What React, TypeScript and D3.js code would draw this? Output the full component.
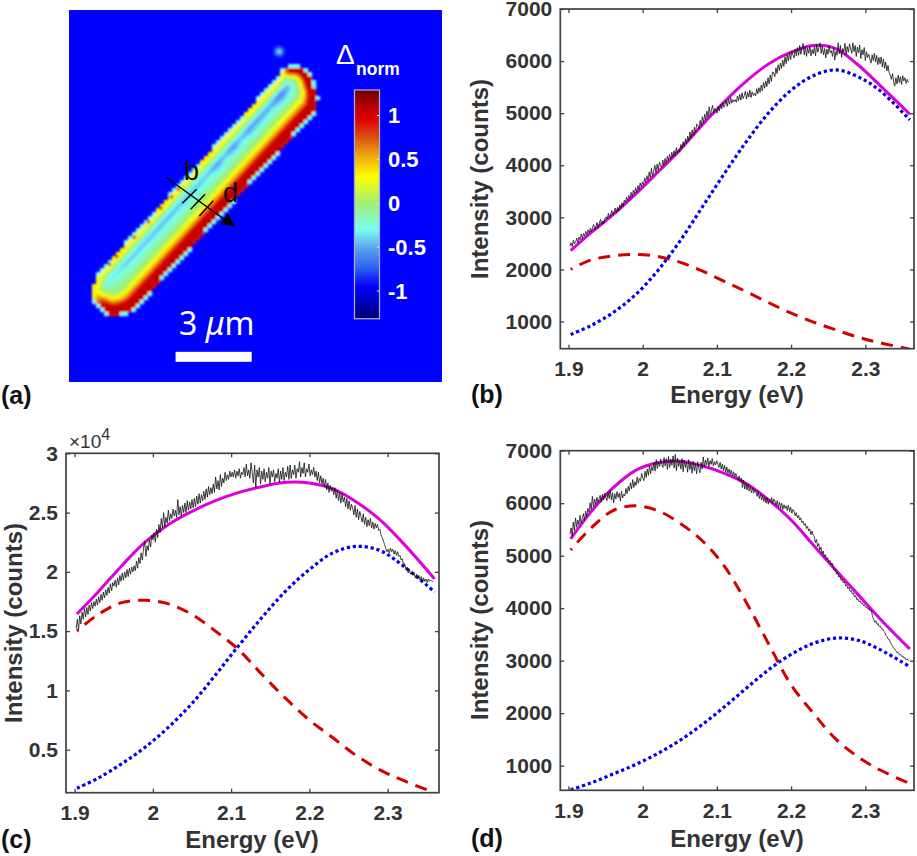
import React, { useRef, useEffect } from 'react';
import * as d3 from 'd3';

const FONT = '"Liberation Sans", Arial, sans-serif';
const INK = '#333333';

// fitted curves at these energies
const fitEnergy = [1.903, 1.93, 1.96, 1.99, 2.02, 2.05, 2.08, 2.11, 2.14, 2.17, 2.2, 2.23, 2.26, 2.29, 2.32, 2.36];

const fitB = [2360, 2700, 3050, 3440, 3860, 4290, 4770, 5220, 5620, 5950, 6170, 6300, 6240, 5930, 5530, 4980];
const highB = [750, 920, 1170, 1510, 1970, 2540, 3190, 3840, 4460, 5010, 5440, 5720, 5830, 5700, 5430, 4870];
const lowB = [2000, 2180, 2260, 2290, 2250, 2140, 1970, 1770, 1570, 1360, 1160, 990, 840, 700, 590, 470];

const fitC = [1.645, 1.83, 2.05, 2.25, 2.4, 2.51, 2.6, 2.67, 2.72, 2.755, 2.75, 2.7, 2.59, 2.44, 2.24, 1.94];
const highC = [0.175, 0.26, 0.38, 0.52, 0.69, 0.89, 1.13, 1.38, 1.62, 1.84, 2.02, 2.16, 2.215, 2.18, 2.05, 1.83];
const lowC = [1.5, 1.64, 1.74, 1.76, 1.73, 1.64, 1.5, 1.34, 1.13, 0.93, 0.75, 0.6, 0.45, 0.33, 0.24, 0.137];

const fitD = [5320, 5830, 6290, 6620, 6770, 6800, 6714, 6570, 6370, 6060, 5680, 5203, 4727, 4263, 3794, 3222];
const highD = [540, 670, 840, 1020, 1230, 1480, 1780, 2120, 2480, 2830, 3120, 3330, 3430, 3390, 3210, 2886];
const lowD = [5110, 5520, 5860, 5950, 5860, 5620, 5290, 4800, 4100, 3310, 2540, 2000, 1510, 1170, 917, 660];

// measured spectra, 17 readings per row, 1.902 to 2.358 eV
const measuredB = [
  2450, 2510, 2440, 2560, 2490, 2530, 2600, 2510, 2620, 2570, 2680, 2590, 2690, 2640, 2730, 2670, 2760,
  2700, 2790, 2720, 2810, 2860, 2760, 2830, 2900, 2790, 2890, 2960, 2860, 2930, 2880, 2990, 3010,
  2970, 3080, 3000, 3060, 3130, 3040, 3110, 3180, 3080, 3190, 3120, 3240, 3170, 3280, 3210, 3330,
  3290, 3390, 3320, 3420, 3360, 3480, 3400, 3520, 3450, 3570, 3480, 3610, 3530, 3660, 3590, 3680,
  3620, 3760, 3660, 3800, 3710, 3870, 3760, 3940, 3790, 3880, 4000, 3860, 4020, 3910, 4060, 4000,
  3950, 4100, 4000, 4130, 4040, 4170, 4090, 4210, 4110, 4250, 4160, 4280, 4190, 4340, 4230, 4300,
  4250, 4400, 4320, 4450, 4360, 4510, 4420, 4560, 4470, 4640, 4520, 4680, 4570, 4730, 4630, 4790, 4770,
  4700, 4860, 4760, 4930, 4810, 4980, 4870, 5040, 4920, 5120, 4960, 5060, 5150, 4990, 5090, 5060,
  5000, 5130, 5040, 5170, 5080, 5210, 5110, 5160, 5250, 5130, 5270, 5170, 5300, 5190, 5260, 5220, 5260,
  5210, 5330, 5240, 5360, 5250, 5390, 5280, 5340, 5420, 5270, 5400, 5310, 5440, 5300, 5410, 5340, 5380,
  5330, 5470, 5370, 5490, 5400, 5540, 5430, 5590, 5480, 5620, 5510, 5680, 5560, 5730, 5610, 5790, 5780,
  5700, 5870, 5760, 5930, 5820, 5960, 5860, 6020, 5900, 6080, 5950, 6120, 6000, 6160, 6030, 6190, 6120,
  6060, 6230, 6100, 6260, 6110, 6300, 6130, 6250, 6340, 6120, 6280, 6090, 6250, 6150, 6290, 6100, 6220,
  6140, 6280, 6100, 6320, 6170, 6260, 6350, 6150, 6290, 6120, 6240, 6060, 6230, 6130, 6300, 6160, 6200,
  6090, 6260, 6020, 6190, 6110, 6350, 6140, 6300, 6070, 6240, 6180, 6340, 6120, 6280, 6170, 6330, 6230,
  6150, 6350, 6180, 6300, 6090, 6270, 6160, 6310, 6050, 6220, 6120, 6260, 6010, 6180, 6070, 6130, 6040,
  5960, 6120, 6010, 6150, 5980, 6110, 5930, 6070, 5950, 6080, 5890, 6040, 5860, 5980, 5810, 5920, 5780,
  5730, 5650, 5760, 5600, 5520, 5680, 5560, 5730, 5590, 5700, 5550, 5720, 5620, 5680, 5570, 5650, 5590,
];
const measuredC = [
  1.52, 1.6, 1.51, 1.63, 1.56, 1.66, 1.6, 1.69, 1.62, 1.7, 1.64, 1.72, 1.67, 1.74, 1.69, 1.75, 1.71,
  1.77, 1.72, 1.79, 1.74, 1.81, 1.76, 1.83, 1.78, 1.85, 1.8, 1.87, 1.82, 1.9, 1.84, 1.91, 1.88,
  1.93, 1.87, 1.95, 1.89, 1.97, 1.92, 1.99, 1.93, 2.0, 1.95, 2.02, 1.96, 2.03, 1.98, 2.04, 2.0,
  2.05, 2.01, 2.09, 2.03, 2.12, 2.07, 2.16, 2.1, 2.2, 2.26, 2.13, 2.22, 2.18, 2.27, 2.21, 2.31, 2.27,
  2.33, 2.25, 2.36, 2.29, 2.4, 2.33, 2.45, 2.37, 2.5, 2.38, 2.46, 2.41, 2.52, 2.43, 2.49, 2.45, 2.53,
  2.47, 2.52, 2.46, 2.61, 2.48, 2.55, 2.47, 2.56, 2.5, 2.58, 2.5, 2.6, 2.52, 2.59, 2.53, 2.61,
  2.54, 2.62, 2.55, 2.64, 2.57, 2.66, 2.58, 2.65, 2.6, 2.68, 2.61, 2.7, 2.63, 2.72, 2.65, 2.71, 2.66,
  2.74, 2.67, 2.8, 2.7, 2.77, 2.69, 2.82, 2.72, 2.79, 2.75, 2.84, 2.77, 2.82, 2.78, 2.85, 2.8, 2.84,
  2.8, 2.86, 2.79, 2.85, 2.81, 2.87, 2.79, 2.84, 2.82, 2.88, 2.8, 2.91, 2.81, 2.86, 2.79, 2.92, 2.83,
  2.75, 2.9, 2.71, 2.86, 2.8, 2.88, 2.74, 2.85, 2.78, 2.87, 2.76, 2.84, 2.79, 2.88, 2.74, 2.85, 2.8,
  2.86, 2.76, 2.83, 2.79, 2.87, 2.75, 2.85, 2.78, 2.88, 2.77, 2.84, 2.8, 2.89, 2.78, 2.9, 2.79, 2.86,
  2.82, 2.9, 2.79, 2.87, 2.84, 2.93, 2.8, 2.88, 2.83, 2.92, 2.8, 2.87, 2.84, 2.91, 2.81, 2.86, 2.82,
  2.88, 2.8, 2.85, 2.77, 2.84, 2.75, 2.81, 2.74, 2.79, 2.72, 2.78, 2.69, 2.75, 2.67, 2.73, 2.68, 2.71,
  2.65, 2.71, 2.62, 2.69, 2.6, 2.67, 2.58, 2.66, 2.59, 2.63, 2.55, 2.62, 2.53, 2.6, 2.52, 2.57, 2.54,
  2.48, 2.56, 2.46, 2.53, 2.44, 2.51, 2.47, 2.42, 2.49, 2.4, 2.46, 2.38, 2.44, 2.39, 2.45, 2.37, 2.42,
  2.36, 2.41, 2.37, 2.4, 2.35, 2.36, 2.31, 2.29, 2.26, 2.23, 2.2, 2.17, 2.19, 2.16, 2.2, 2.17, 2.19,
  2.15, 2.18, 2.14, 2.17, 2.13, 2.14, 2.1, 2.11, 2.06, 2.07, 2.02, 2.04, 1.99, 2.02, 1.98, 2.0, 1.97,
  1.99, 1.95, 1.98, 1.94, 1.97, 1.93, 1.96, 1.92, 1.95, 1.92, 1.94, 1.91, 1.94, 1.92, 1.93, 1.92, 1.92,
];
const measuredD = [
  5410, 5530, 5370, 5640, 5480, 5720, 5540, 5680, 5590, 5770, 5620, 5710, 5800, 5660, 5850, 5740, 5900,
  5830, 6010, 5880, 6130, 5930, 6080, 5970, 6110, 6010, 6090, 6150, 6020, 6170, 6060, 6190, 6110,
  6050, 6210, 6090, 6240, 6060, 6200, 6010, 6180, 6080, 6220, 6110, 6190, 6040, 6230, 6100, 6170,
  6140, 6280, 6180, 6320, 6230, 6390, 6270, 6450, 6300, 6410, 6340, 6500, 6380, 6470, 6420, 6570, 6480,
  6430, 6610, 6490, 6650, 6530, 6720, 6560, 6700, 6620, 6780, 6610, 6830, 6660, 6790, 6700, 6840, 6730,
  6680, 6870, 6710, 6850, 6640, 6890, 6680, 6840, 6720, 6900, 6670, 6930, 6620, 6860, 6700, 6810,
  6650, 6850, 6600, 6820, 6680, 6790, 6590, 6830, 6640, 6780, 6570, 6800, 6620, 6760, 6560, 6790, 6660,
  6580, 6780, 6650, 6880, 6690, 6820, 6730, 6860, 6700, 6810, 6740, 6850, 6710, 6790, 6730, 6810, 6740,
  6680, 6780, 6650, 6740, 6620, 6720, 6590, 6690, 6570, 6650, 6550, 6630, 6520, 6600, 6490, 6570, 6500,
  6440, 6520, 6410, 6480, 6300, 6440, 6270, 6390, 6250, 6360, 6230, 6320, 6200, 6290, 6190, 6260, 6220,
  6130, 6230, 6090, 6180, 6060, 6150, 6030, 6110, 6000, 6100, 5980, 6080, 6020, 6110, 5990, 6080, 6040,
  5960, 6050, 5930, 6020, 5910, 6000, 5880, 5970, 5900, 5950, 5860, 5960, 5840, 5920, 5810, 5880, 5850,
  5760, 5820, 5720, 5770, 5680, 5720, 5630, 5660, 5580, 5610, 5520, 5560, 5470, 5510, 5400, 5470, 5390,
  5370, 5250, 5310, 5180, 5230, 5110, 5160, 5040, 5090, 4980, 5020, 4930, 4960, 4880, 4910, 4830, 4860,
  4780, 4720, 4740, 4650, 4690, 4590, 4610, 4530, 4560, 4480, 4510, 4420, 4450, 4370, 4400, 4320, 4340,
  4270, 4290, 4210, 4240, 4160, 4180, 4120, 4140, 4090, 4100, 4050, 4060, 4010, 4020, 3980, 3990, 3950,
  3960, 3840, 3790, 3730, 3760, 3690, 3710, 3650, 3660, 3610, 3610, 3560, 3540, 3480, 3460, 3410, 3400,
  3350, 3310, 3270, 3240, 3210, 3190, 3150, 3160, 3110, 3120, 3080, 3090, 3050, 3060, 3020, 3030, 3000,
];

const xTicks = [1.9, 2, 2.1, 2.2, 2.3];
const countTicks = [1000, 2000, 3000, 4000, 5000, 6000, 7000];
const scaledTicks = [0.5, 1, 1.5, 2, 2.5, 3];

// map colour scale
const barTicks = [-1, -0.5, 0, 0.5, 1];
const jetStops = [-1.32, -1.1, -0.95, -0.75, -0.5, -0.3, 0, 0.3, 0.55, 0.75, 0.95, 1.1, 1.285];
const jetColors = ['#000070', '#0000c8', '#0000ff', '#2a60f0', '#5fa8f0', '#78fff0', '#a0f070', '#ffff00', '#f0a010', '#d85010', '#e00000', '#b80000', '#6a0000'];

// rod in the map, micrometres from the image corner
const ridgeStart = [1.667, 10.64];
const ridgeEnd = [8.63, 3.035];
const capAngle = [0, 45, 90, 135, 180];
const capRadiusTop = [1.38, 0.985, 0.945, 0.75, 0.51];
const capRadiusBottom = [1.42, 1.38, 1.02, 0.56, 0.51];
const profileQ = [0, 0.08, 0.17, 0.39, 0.53, 0.64, 0.72, 0.85, 0.95, 1];
const lowerDelta = [-0.55, -0.42, -0.3, 0, 0.3, 0.62, 0.95, 1.08, 1.05, 0.85];
const upperQ = [0, 0.3, 0.5, 0.75, 0.9, 1];
const upperDelta = [-0.55, -0.3, -0.02, 0.28, 0.36, 0.3];
const ridgeQ = [0, 0.08, 0.3, 0.55, 0.6, 0.64, 0.69, 0.73, 0.78, 0.9, 0.96, 1];
const ridgeDelta = [-0.32, -0.42, -0.46, -0.44, -0.56, -0.44, -0.58, -0.44, -0.56, -0.5, -0.66, -0.48];
const edgeSpots = [0.04, 0.08, 0.18, 0.26, 0.33, 0.39, 0.43];

function drawMap(svg: any) {
  const mapX = d3.scaleLinear().domain([0, 14.7]).range([69, 442]);
  const mapY = d3.scaleLinear().domain([0, 14.66]).range([10, 382]);
  const um = 373 / 14.7;
  const jet = d3.scaleLinear<string>().domain(jetStops).range(jetColors).clamp(true);

  const defs = svg.append('defs');
  const blur = defs.append('filter').attr('id', 'soft')
    .attr('x', '-10%').attr('y', '-10%').attr('width', '120%').attr('height', '120%');
  blur.append('feGaussianBlur').attr('stdDeviation', 0.8);
  const blur2 = defs.append('filter').attr('id', 'softer')
    .attr('x', '-100%').attr('y', '-100%').attr('width', '300%').attr('height', '300%');
  blur2.append('feGaussianBlur').attr('stdDeviation', 1.6);

  svg.append('rect').attr('x', 69).attr('y', 10).attr('width', 373).attr('height', 372).attr('fill', '#0000ff');

  const ax = mapX(ridgeStart[0]);
  const ay = mapY(ridgeStart[1]);
  const bx = mapX(ridgeEnd[0]);
  const by = mapY(ridgeEnd[1]);
  const len = Math.hypot(bx - ax, by - ay);
  const ux = (bx - ax) / len;
  const uy = (by - ay) / len;
  const nx = -uy;
  const ny = ux;

  const topR = d3.scaleLinear().domain(capAngle).range(capRadiusTop.map((d) => d * um));
  const botR = d3.scaleLinear().domain(capAngle).range(capRadiusBottom.map((d) => d * um));
  const topW = d3.scaleLinear().domain([125, 150]).range([1, 0]).clamp(true);
  const botW = d3.scaleLinear().domain([60, 95]).range([1, 0]).clamp(true);
  const lower = d3.scaleLinear().domain(profileQ).range(lowerDelta).clamp(true);
  const upper = d3.scaleLinear().domain(upperQ).range(upperDelta).clamp(true);
  const ridge = d3.scaleLinear().domain(ridgeQ).range(ridgeDelta).clamp(true);

  const locate = (x: number, y: number) => {
    const s = (x - ax) * ux + (y - ay) * uy;
    const n = (x - ax) * nx + (y - ay) * ny;
    const sc = Math.max(0, Math.min(len, s));
    const a = s - sc;
    const phi = (Math.atan2(Math.abs(a), n) * 180) / Math.PI;
    const R = a > 0 ? topR(phi) : botR(phi);
    const w = a > 0 ? topW(phi) : botW(phi);
    return { q: Math.hypot(a, n) / R, R, w, along: sc / len };
  };

  const cells: any[] = [];
  d3.range(92, 322, 2).forEach((x) => {
    d3.range(60, 324, 2).forEach((y) => {
      const coarse = locate(Math.floor(x / 4) * 4 + 2, Math.floor(y / 4) * 4 + 2);
      if (coarse.q > 1 + 2 / coarse.R) return;
      let value = -0.3;
      if (coarse.q <= 1) {
        const p = locate(x + 1, y + 1);
        const q = Math.min(p.q, 0.99);
        value = p.w * lower(q) + (1 - p.w) * upper(q);
        value += (ridge(p.along) + 0.55) * Math.max(0, 1 - q * 2.5);
      }
      cells.push({ x, y, value });
    });
  });

  const rod = svg.append('g').attr('filter', 'url(#soft)');
  rod.selectAll('rect').data(cells).join('rect')
    .attr('x', (d: any) => d.x).attr('y', (d: any) => d.y)
    .attr('width', 2.2).attr('height', 2.2)
    .attr('fill', (d: any) => jet(d.value));
  rod.selectAll('circle').data(edgeSpots).join('circle')
    .attr('cx', (d: number) => ax + ux * d * len - nx * 12)
    .attr('cy', (d: number) => ay + uy * d * len - ny * 12)
    .attr('r', 1.9)
    .attr('fill', jet(0.8));

  // small speck above the rod
  svg.append('circle').attr('cx', mapX(8.28)).attr('cy', mapY(1.64)).attr('r', 5.5)
    .attr('fill', jet(-0.72)).attr('filter', 'url(#softer)');
  svg.append('circle').attr('cx', mapX(8.28)).attr('cy', mapY(1.64)).attr('r', 2.6)
    .attr('fill', jet(-0.42)).attr('filter', 'url(#soft)');

  // cut line and markers
  const marks = svg.append('g').attr('stroke', '#000').attr('stroke-width', 1.4);
  marks.append('line').attr('x1', 166).attr('y1', 177.3).attr('x2', 228).attr('y2', 222);
  [[182.3, 203.3, 196.7, 189.3], [190.7, 209.3, 205, 194.3], [199.3, 216, 213.3, 200.7]].forEach((t) => {
    marks.append('line').attr('x1', t[0]).attr('y1', t[1]).attr('x2', t[2]).attr('y2', t[3]);
  });
  svg.append('path').attr('d', 'M235,226.7L220.5,224L228,213.5Z').attr('fill', '#000');
  svg.append('text').attr('x', 184).attr('y', 179.5).attr('font-family', '"Liberation Sans"')
    .attr('font-size', 27).attr('fill', '#111').text('b');
  svg.append('text').attr('x', 223).attr('y', 201.5).attr('font-family', '"Liberation Sans"')
    .attr('font-size', 27).attr('fill', '#111').text('d');

  // scale bar
  const bar = svg.append('text').attr('x', 179).attr('y', 335).attr('fill', '#fff')
    .attr('font-family', '"Noto Sans"').attr('font-size', 32);
  bar.append('tspan').text('3 ');
  bar.append('tspan').attr('font-style', 'italic').text('\u03bc');
  bar.append('tspan').text('m');
  svg.append('rect').attr('x', mapX(4.2)).attr('y', mapY(13.47)).attr('width', 3 * um).attr('height', 10).attr('fill', '#fff');

  // colour bar
  const barY = d3.scaleLinear().domain([-1.32, 1.285]).range([318.7, 90]);
  const grad = defs.append('linearGradient').attr('id', 'jetbar')
    .attr('x1', 0).attr('y1', 1).attr('x2', 0).attr('y2', 0);
  jetStops.forEach((d, i) => {
    grad.append('stop').attr('offset', (d + 1.32) / 2.605).attr('stop-color', jetColors[i]);
  });
  svg.append('rect').attr('x', 354.5).attr('y', 90).attr('width', 25).attr('height', 228.7)
    .attr('fill', 'url(#jetbar)').attr('stroke', '#a9a9c4').attr('stroke-width', 1.3);
  const barAxis = svg.append('g').attr('transform', 'translate(379,0)')
    .call(d3.axisRight(barY).tickValues(barTicks).tickFormat((d: any) => String(d)).tickSize(-2).tickPadding(9));
  barAxis.select('.domain').remove();
  barAxis.selectAll('line').attr('stroke', '#e8e8f0');
  barAxis.selectAll('text').attr('fill', '#fff').attr('font-family', FONT)
    .attr('font-weight', 700).attr('font-size', 22).attr('dy', '0.34em');

  svg.append('text').attr('x', 336).attr('y', 63.5).attr('fill', '#fff').attr('font-family', FONT)
    .attr('font-size', 28).text('\u0394');
  svg.append('text').attr('x', 356).attr('y', 75).attr('fill', '#fff').attr('font-family', FONT)
    .attr('font-weight', 700).attr('font-size', 17.5).text('norm');
}

function drawPanel(svg: any, cfg: any) {
  const x = d3.scaleLinear().domain([1.889, 2.3656]).range([cfg.left, cfg.right]);
  const y = d3.scaleLinear().domain(cfg.yDomain).range([cfg.bottom, cfg.top]);
  const index = d3.scaleLinear().domain([0, cfg.measured.length - 1]).range([1.902, 2.358]);

  svg.select('defs').append('clipPath').attr('id', cfg.id)
    .append('rect').attr('x', cfg.left).attr('y', cfg.top)
    .attr('width', cfg.right - cfg.left).attr('height', cfg.bottom - cfg.top);

  const g = svg.append('g').attr('clip-path', `url(#${cfg.id})`).attr('fill', 'none');
  const fitLine = d3.line<number>().x((_, i) => x(fitEnergy[i])).y((d) => y(d)).curve(d3.curveCatmullRom.alpha(0.5));
  const rawLine = d3.line<number>().x((_, i) => x(index(i))).y((d) => y(d));

  g.append('path').attr('d', fitLine(cfg.low)).attr('stroke', '#d40000').attr('stroke-width', 3)
    .attr('stroke-dasharray', '12,8').attr('stroke-dashoffset', 10);
  g.append('path').attr('d', fitLine(cfg.high)).attr('stroke', '#0000ee').attr('stroke-width', 3.2)
    .attr('stroke-dasharray', '3.2,2.8');
  g.append('path').attr('d', fitLine(cfg.fit)).attr('stroke', '#dc00dc').attr('stroke-width', 3);
  g.append('path').attr('d', rawLine(cfg.measured)).attr('stroke', '#111').attr('stroke-width', 0.8);

  const fmt = (d: any) => String(d);
  const styleAxis = (a: any, labels: boolean) => {
    a.select('.domain').remove();
    a.selectAll('line').attr('stroke', '#404040').attr('stroke-width', 1.3);
    if (labels) {
      a.selectAll('text').attr('fill', INK).attr('font-family', FONT)
        .attr('font-weight', 700).attr('font-size', 21);
    } else {
      a.selectAll('text').remove();
    }
  };
  const bottom = svg.append('g').attr('transform', `translate(0,${cfg.bottom})`)
    .call(d3.axisBottom(x).tickValues(xTicks).tickFormat(fmt).tickSize(-4).tickPadding(12.5));
  styleAxis(bottom, true);
  const top = svg.append('g').attr('transform', `translate(0,${cfg.top})`)
    .call(d3.axisTop(x).tickValues(xTicks).tickSize(-4));
  styleAxis(top, false);
  const left = svg.append('g').attr('transform', `translate(${cfg.left},0)`)
    .call(d3.axisLeft(y).tickValues(cfg.yTicks).tickFormat(fmt).tickSize(-4).tickPadding(8));
  styleAxis(left, true);
  const right = svg.append('g').attr('transform', `translate(${cfg.right},0)`)
    .call(d3.axisRight(y).tickValues(cfg.yTicks).tickSize(-4));
  styleAxis(right, false);

  svg.append('rect').attr('x', cfg.left).attr('y', cfg.top)
    .attr('width', cfg.right - cfg.left).attr('height', cfg.bottom - cfg.top)
    .attr('fill', 'none').attr('stroke', '#404040').attr('stroke-width', 1.7);

  svg.append('text').attr('x', cfg.xLabel).attr('y', cfg.labelY).attr('text-anchor', 'middle')
    .attr('fill', INK).attr('font-family', FONT).attr('font-weight', 700).attr('font-size', 24)
    .text('Energy (eV)');
  svg.append('text').attr('transform', `translate(${cfg.yLabelX},${cfg.yLabelY}) rotate(-90)`)
    .attr('text-anchor', 'middle').attr('fill', INK).attr('font-family', FONT)
    .attr('font-weight', 700).attr('font-size', 24).text('Intensity (counts)');
}

function panelLetter(svg: any, text: string, px: number, py: number) {
  svg.append('text').attr('x', px).attr('y', py).attr('fill', '#111').attr('font-family', FONT)
    .attr('font-weight', 700).attr('font-size', 25).text(text);
}

export default function App() {
  const svgRef = useRef<SVGSVGElement>(null);

  useEffect(() => {
    const svg = d3.select(svgRef.current);
    svg.selectAll('*').remove();

    drawMap(svg);

    drawPanel(svg, {
      id: 'clip-b', left: 560.3, right: 914, top: 9, bottom: 348.7,
      yDomain: [478, 7000], yTicks: countTicks,
      fit: fitB, high: highB, low: lowB, measured: measuredB,
      xLabel: 737, labelY: 403, yLabelX: 488, yLabelY: 179,
    });
    drawPanel(svg, {
      id: 'clip-c', left: 66, right: 439, top: 453.3, bottom: 792.7,
      yDomain: [0.137, 3], yTicks: scaledTicks,
      fit: fitC, high: highC, low: lowC, measured: measuredC,
      xLabel: 252, labelY: 848, yLabelX: 21.5, yLabelY: 623,
    });
    drawPanel(svg, {
      id: 'clip-d', left: 560.3, right: 914, top: 450.7, bottom: 790.3,
      yDomain: [531, 7000], yTicks: countTicks,
      fit: fitD, high: highD, low: lowD, measured: measuredD,
      xLabel: 737, labelY: 847, yLabelX: 488, yLabelY: 620,
    });

    const exp = svg.append('text').attr('x', 69).attr('y', 448).attr('fill', INK)
      .attr('font-family', FONT).attr('font-size', 19);
    exp.append('tspan').text('\u00d710');
    exp.append('tspan').attr('dy', -8).attr('font-size', 16).text('4');

    panelLetter(svg, '(a)', 1, 404);
    panelLetter(svg, '(b)', 471, 403);
    panelLetter(svg, '(c)', 1, 848);
    panelLetter(svg, '(d)', 471, 847);
  }, []);

  return (
    <svg
      ref={svgRef}
      width={917}
      height={856}
      style={{ position: 'absolute', left: 0, top: 0, background: '#fff' }}
    />
  );
}
